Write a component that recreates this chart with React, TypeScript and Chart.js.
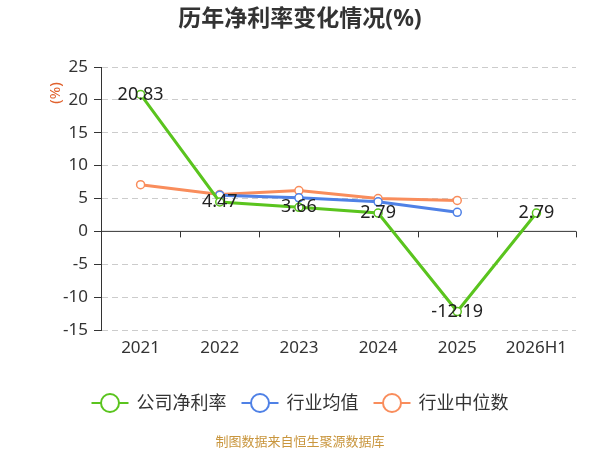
import React, { useEffect, useRef } from 'react';
import Chart from 'chart.js/auto';

const categories = ['2021', '2022', '2023', '2024', '2025', '2026H1'];
const companyNetMargin = [20.83, 4.47, 3.66, 2.79, -12.19, 2.79];
const industryMean = [null, 5.5, 5.1, 4.5, 2.9, null];
const industryMedian = [7.1, 5.6, 6.2, 5.0, 4.7, null];
const yMin = -15;
const yMax = 25;
const yStep = 5;

const FONT = '"Noto Sans", "Noto Sans CJK SC", sans-serif';
const GREEN = '#5ac41e';
const BLUE = '#4f81e6';
const ORANGE = '#f98d5c';

const overlayPlugin = {
    id: 'overlay',
    beforeDatasetsDraw(chart: any) {
        const { ctx, chartArea, scales } = chart;
        const y0 = scales.y.getPixelForValue(0);
        const n = categories.length;
        const step = (chartArea.right - chartArea.left) / n;
        ctx.save();
        ctx.strokeStyle = '#333';
        ctx.lineWidth = 1;
        ctx.beginPath();
        ctx.moveTo(chartArea.left, y0);
        ctx.lineTo(chartArea.right, y0);
        for (let i = 0; i <= n; i++) {
            const x = Math.round(chartArea.left + i * step) + 0.5;
            ctx.moveTo(x, y0);
            ctx.lineTo(x, y0 + 6);
        }
        ctx.stroke();
        ctx.restore();
    },
    afterDatasetsDraw(chart: any) {
        const { ctx, scales } = chart;
        ctx.save();
        // data labels of the company series
        ctx.font = `18px ${FONT}`;
        ctx.fillStyle = '#222';
        ctx.textAlign = 'center';
        ctx.textBaseline = 'middle';
        companyNetMargin.forEach((v, i) => {
            ctx.fillText(v.toFixed(2), scales.x.getPixelForValue(i), scales.y.getPixelForValue(v));
        });

        // title
        ctx.font = `bold 23px ${FONT}`;
        ctx.fillStyle = '#333';
        ctx.fillText('历年净利率变化情况(%)', 300, 19);

        // y unit
        ctx.save();
        ctx.translate(56, 93);
        ctx.rotate(-Math.PI / 2);
        ctx.font = `15px ${FONT}`;
        ctx.fillStyle = '#e0622e';
        ctx.fillText('(%)', 0, 0);
        ctx.restore();

        // legend
        ctx.font = `18px ${FONT}`;
        const items = chart.data.datasets.map((d: any) => ({ label: d.label, color: d.borderColor }));
        const widths = items.map((it: any) => 37 + 8 + ctx.measureText(it.label).width);
        const total = widths.reduce((a: number, b: number) => a + b, 0) + 15 * (items.length - 1);
        let x = 300 - total / 2;
        const ly = 403;
        items.forEach((it: any, i: number) => {
            ctx.strokeStyle = it.color;
            ctx.lineWidth = 2;
            ctx.beginPath();
            ctx.moveTo(x, ly);
            ctx.lineTo(x + 37, ly);
            ctx.stroke();
            ctx.beginPath();
            ctx.arc(x + 18.5, ly, 9, 0, Math.PI * 2);
            ctx.fillStyle = '#fff';
            ctx.fill();
            ctx.stroke();
            ctx.fillStyle = '#333';
            ctx.textAlign = 'left';
            ctx.fillText(it.label, x + 45, ly + 1);
            x += widths[i] + 15;
        });

        // source note
        ctx.font = `13px ${FONT}`;
        ctx.fillStyle = '#c9963e';
        ctx.textAlign = 'center';
        ctx.fillText('制图数据来自恒生聚源数据库', 300, 442);
        ctx.restore();
    }
};

const App: React.FC = () => {
    const canvasRef = useRef<HTMLCanvasElement>(null);
    const chartRef = useRef<Chart>();

    useEffect(() => {
        document.body.style.margin = '0';
        const ctx = canvasRef.current?.getContext('2d');
        if (!ctx) return;
        if (chartRef.current) chartRef.current.destroy();

        const lineStyle = (color: string) => ({
            borderColor: color,
            backgroundColor: color,
            borderWidth: 3,
            pointRadius: 4,
            pointHoverRadius: 4,
            pointBorderWidth: 1.5,
            pointBorderColor: color,
            pointBackgroundColor: '#fff',
            tension: 0,
            spanGaps: false
        });

        chartRef.current = new Chart(ctx, {
            type: 'line',
            data: {
                labels: categories,
                datasets: [
                    { label: '公司净利率', data: companyNetMargin, ...lineStyle(GREEN) },
                    { label: '行业均值', data: industryMean, ...lineStyle(BLUE) },
                    { label: '行业中位数', data: industryMedian, ...lineStyle(ORANGE) }
                ]
            },
            options: {
                animation: false,
                responsive: true,
                maintainAspectRatio: false,
                layout: { padding: { left: 0, right: 24, top: 67, bottom: 80 } },
                plugins: {
                    legend: { display: false },
                    title: { display: false },
                    tooltip: { enabled: false }
                },
                scales: {
                    x: {
                        offset: true,
                        grid: { display: false, drawTicks: false },
                        border: { display: false },
                        ticks: { color: '#333', font: { family: FONT, size: 17 }, padding: 8, maxRotation: 0 },
                        afterFit: (scale: any) => { scale.height = 40; }
                    },
                    y: {
                        min: yMin,
                        max: yMax,
                        ticks: { stepSize: yStep, color: '#333', font: { family: FONT, size: 17 }, padding: 6 },
                        grid: {
                            color: (c: any) => (c.tick && c.tick.value === 0 ? 'rgba(0,0,0,0)' : '#cccccc'),
                            tickColor: '#333',
                            tickLength: 7,
                            tickBorderDash: [],
                            lineWidth: 1
                        },
                        border: { display: true, color: '#333', width: 1, dash: [6, 4] },
                        afterFit: (scale: any) => { scale.width = 101; }
                    }
                }
            } as any,
            plugins: [overlayPlugin]
        });

        return () => {
            if (chartRef.current) {
                chartRef.current.destroy();
                chartRef.current = undefined;
            }
        };
    }, []);

    return (
        <div style={{ width: 600, height: 450, position: 'relative' }}>
            <canvas ref={canvasRef}></canvas>
        </div>
    );
};

export default App;
